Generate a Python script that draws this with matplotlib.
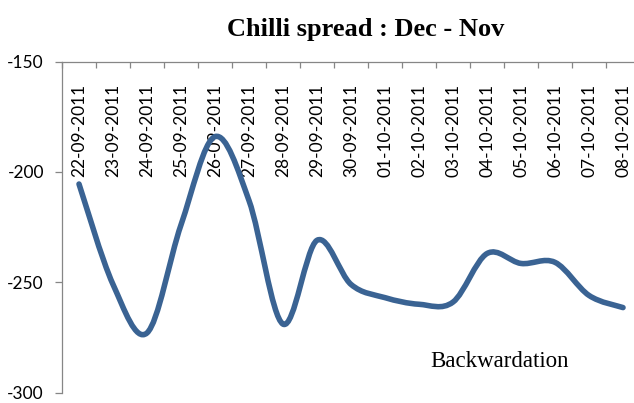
import matplotlib.pyplot as plt
import matplotlib.transforms as mtransforms
from matplotlib.path import Path
from matplotlib.patches import PathPatch
import numpy as np

dates = ['22-09-2011', '23-09-2011', '24-09-2011', '25-09-2011', '26-09-2011',
         '27-09-2011', '28-09-2011', '29-09-2011', '30-09-2011', '01-10-2011',
         '02-10-2011', '03-10-2011', '04-10-2011', '05-10-2011', '06-10-2011',
         '07-10-2011', '08-10-2011']
spread = [-205.5, -251, -273, -224, -184, -213, -269, -231, -251, -257,
          -260, -259, -237, -241.5, -241, -256, -261.5]
y_ticks = [-150, -200, -250, -300]

axis_grey = '#868686'
line_blue = '#3a6393'

fig = plt.figure(figsize=(6.34, 4.03), dpi=100)
ax = fig.add_axes([0.0978, 0.0260, 0.9117, 0.8212])

x = np.arange(len(dates))
y = np.array(spread, dtype=float)

# smoothed line like excel: cubic bezier through every point
xp = np.concatenate([[x[0]], x, [x[-1]]])
yp = np.concatenate([[y[0]], y, [y[-1]]])
verts = [(x[0], y[0])]
codes = [Path.MOVETO]
for i in range(len(x) - 1):
    c1 = (x[i] + (xp[i + 2] - xp[i]) / 6, y[i] + (yp[i + 2] - yp[i]) / 6)
    c2 = (x[i + 1] - (xp[i + 3] - xp[i + 1]) / 6, y[i + 1] - (yp[i + 3] - yp[i + 1]) / 6)
    verts += [c1, c2, (x[i + 1], y[i + 1])]
    codes += [Path.CURVE4] * 3
ax.add_patch(PathPatch(Path(verts, codes), fill=False, ec=line_blue, lw=4,
                       capstyle='round', joinstyle='round', zorder=4))

ax.set_xlim(-0.5, len(dates) - 0.5)
ax.set_ylim(-300, -150)

for s in ['bottom', 'right']:
    ax.spines[s].set_visible(False)
for s in ['left', 'top']:
    ax.spines[s].set_color(axis_grey)
    ax.spines[s].set_linewidth(0.9)

ax.xaxis.tick_top()
ax.set_xticks(np.arange(-0.5, len(dates), 1.0))
ax.set_xticklabels([])
ax.tick_params(axis='x', direction='in', length=4, color=axis_grey, width=0.9)

ax.set_yticks(y_ticks)
ax.set_yticklabels([str(v) for v in y_ticks], fontfamily='Lato', fontsize=12.5)
ax.tick_params(axis='y', direction='out', length=5, color=axis_grey, width=0.9, pad=8)

# date labels hang below the top axis
trans = mtransforms.offset_copy(
    mtransforms.blended_transform_factory(ax.transData, ax.transAxes),
    fig=fig, x=0, y=-16, units='points')
for i, d in enumerate(dates):
    ax.text(i, 1, d, rotation=90, ha='center', va='top', transform=trans,
            fontfamily='Lato', fontsize=12.5, zorder=3)

fig.text(366 / 634, 1 - 36 / 403, 'Chilli spread : Dec - Nov', ha='center',
         va='baseline', fontfamily='Liberation Serif', fontweight='bold', fontsize=19)
fig.text(430 / 634, 1 - 367 / 403, 'Backwardation', ha='left', va='baseline',
         fontfamily='Liberation Serif', fontsize=16.5)

fig.savefig('out.png', dpi=100)
